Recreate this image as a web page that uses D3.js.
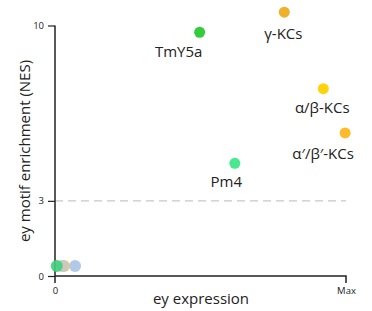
<!DOCTYPE html>
<html><head><meta charset="utf-8">
<script src="https://cdn.jsdelivr.net/npm/d3@7"></script>
<style>body{margin:0;background:#fff;} svg{display:block;font-family:"Open Sans",sans-serif;}</style>
</head><body>
<svg id="c" width="372" height="311"></svg>
<script>
const labels = ["TmY5a", "γ-KCs", "α/β-KCs", "α′/β′-KCs", "Pm4"];
const xValues = [49.7, 78.8, 92.2, 99.7, 61.8];
const yValues = [9.73, 10.53, 7.48, 5.71, 4.50];
const colors = ["#33cc3a", "#edb12a", "#ffd20c", "#ffba2c", "#47e88e"];
const labelDx = [-21, -1, -1, -22, -8.5];
const labelDy = [19.7, 21.7, 19.3, 21, 18.7];
const clusterX = [6.9, 3.1, 2.4, 0.6];
const clusterY = [0.4, 0.4, 0.4, 0.4];
const clusterColors = ["#a9c4e6", "#dcc48c", "#c8c8c8", "#3fd07c"];
const yTicks = [0, 3, 10];
const xTickLabels = ["0", "Max"];

const svg = d3.select("#c");
const x = d3.scaleLinear().domain([0, 100]).range([55, 346]);
const y = d3.scaleLinear().domain([0, 10]).range([276, 25.5]);

// dashed line at 3
svg.append("line").attr("x1", x(0)).attr("x2", x(100)).attr("y1", y(3)).attr("y2", y(3))
  .attr("stroke", "#c8c8c8").attr("stroke-width", 1.2).attr("stroke-dasharray", "8,5");

// y axis
const yAxis = d3.axisLeft(y).tickValues(yTicks).tickSize(7).tickPadding(4).tickFormat(d3.format("d"));
const gy = svg.append("g").attr("transform", `translate(${x(0)},0)`).call(yAxis);
gy.select(".domain").attr("d", `M0,${y(10)}V${y(0)+7}`).attr("stroke", "#222").attr("stroke-width", 1.5);
gy.selectAll(".tick line").attr("stroke", "#222").attr("stroke-width", 1.2);
gy.selectAll(".tick text").attr("font-size", 9.5).attr("fill", "#222").attr("font-family", "Open Sans");

// x axis
const xAxis = d3.axisBottom(x).tickValues([0, 100]).tickSize(0).tickPadding(11)
  .tickFormat((d, i) => xTickLabels[i]);
const gx = svg.append("g").attr("transform", `translate(0,${y(0)})`).call(xAxis);
gx.select(".domain").attr("d", `M${x(0)},0H${x(100)}V7`).attr("stroke", "#222").attr("stroke-width", 1.5).attr("fill", "none");
gx.selectAll(".tick text").attr("font-size", 9.5).attr("fill", "#222").attr("font-family", "Open Sans");

// axis titles
svg.append("text").attr("x", 201).attr("y", 303.5).attr("text-anchor", "middle")
  .attr("font-size", 15).attr("fill", "#222").text("ey expression");
svg.append("text").attr("transform", "translate(30,151) rotate(-90)").attr("text-anchor", "middle")
  .attr("font-size", 15).attr("fill", "#222").text("ey motif enrichment (NES)");

// cluster
svg.append("g").selectAll("circle").data(clusterX).join("circle")
  .attr("cx", (d) => x(d)).attr("cy", (d, i) => y(clusterY[i])).attr("r", 6)
  .attr("fill", (d, i) => clusterColors[i]).attr("opacity", 0.9);

// main points
svg.append("g").selectAll("circle").data(xValues).join("circle")
  .attr("cx", (d) => x(d)).attr("cy", (d, i) => y(yValues[i])).attr("r", 5.5)
  .attr("fill", (d, i) => colors[i]);

svg.append("g").selectAll("text").data(labels).join("text")
  .attr("x", (d, i) => x(xValues[i]) + labelDx[i])
  .attr("y", (d, i) => y(yValues[i]) + labelDy[i] + 5.5)
  .attr("text-anchor", "middle").attr("font-size", 15).attr("fill", "#222").text((d) => d);
</script>
</body></html>
